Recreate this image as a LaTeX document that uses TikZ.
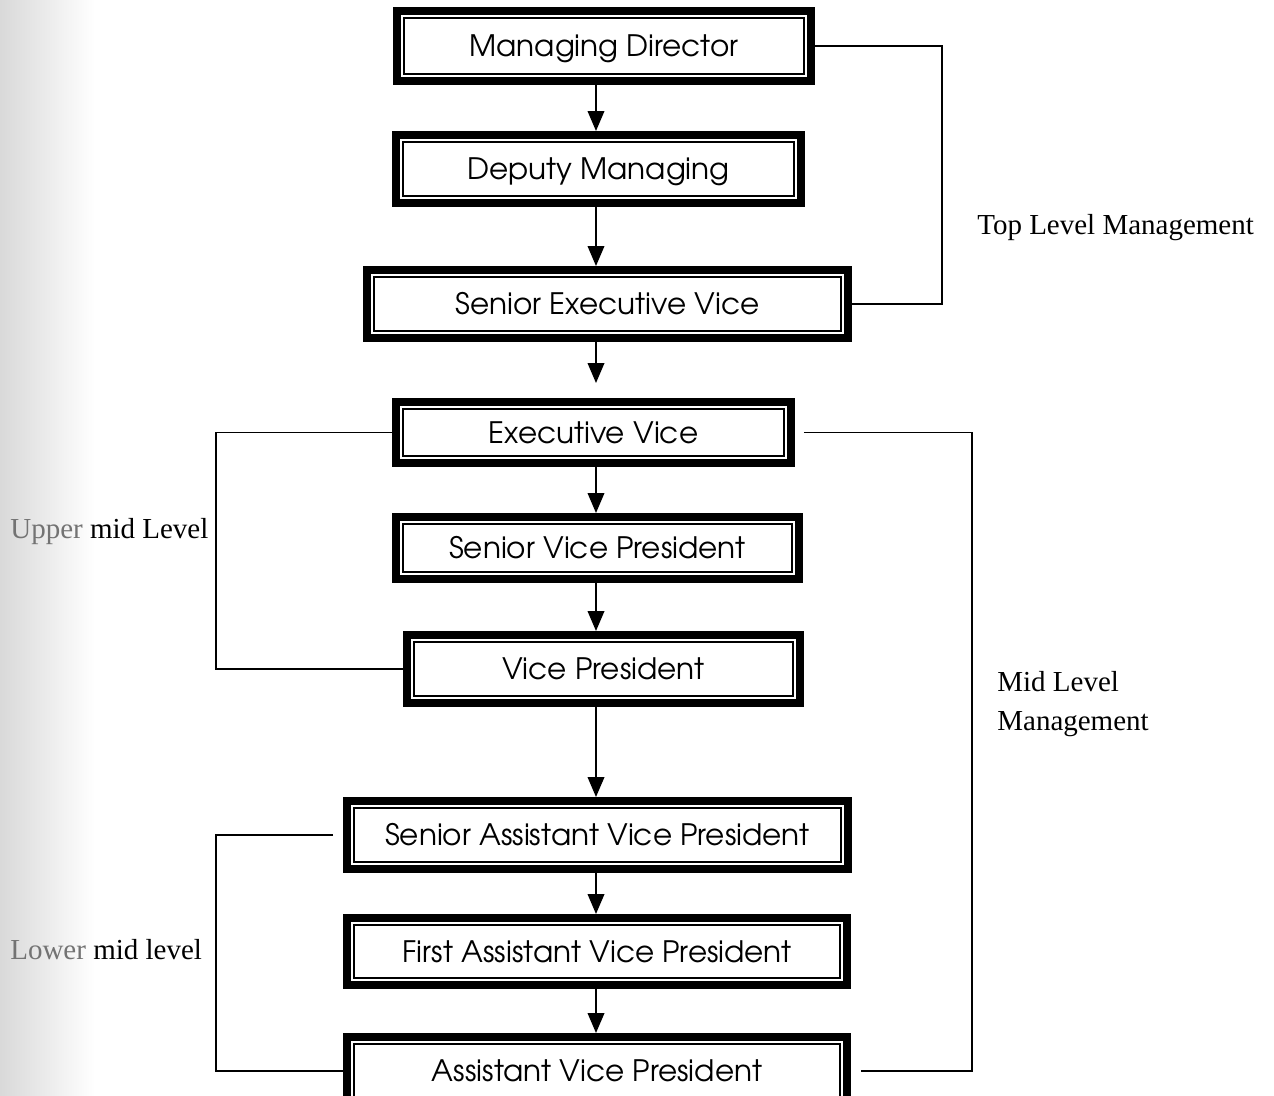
\documentclass[tikz,border=0pt]{standalone}
\usepackage{fontspec}
\setmainfont{Liberation Serif}
\newfontfamily\boxfont{TeX Gyre Adventor}
\usetikzlibrary{arrows.meta}
\tikzset{
  orgbox/.style args={#1/#2}{draw, line width=4.5pt, inner sep=0pt,
    minimum width={#1*0.02cm}, minimum height={#2*0.02cm},
    font=\boxfont\fontsize{16.8}{19}\selectfont,
    text height=12.5pt, text depth=0pt,
    path picture={\draw[line width=1.1pt]
      ([shift={(0.145cm,-0.145cm)}]path picture bounding box.north west) rectangle
      ([shift={(-0.145cm,0.145cm)}]path picture bounding box.south east);}},
  arr/.style={-{Triangle[width=0.33cm,length=0.4cm]}, line width=1.2pt},
  conn/.style={line width=0.85pt},
  lab/.style={font=\fontsize{16.5}{22}\selectfont, inner sep=0pt, anchor=west}
}
\begin{document}
\begin{tikzpicture}[x=0.02cm,y=-0.02cm]
\useasboundingbox (0,0) rectangle (1274,1095);
\fill[left color=black!15, right color=white] (0,0) rectangle (95,1095);
% boxes
\node[orgbox=414/70] (md) at (604,46) {Managing Director};
\node[orgbox=405/68] (dm) at (598.5,169) {Deputy Managing};
\node[orgbox=481/68] (sev) at (607.5,304) {Senior Executive Vice};
\node[orgbox=395/61] (ev) at (593.5,432.5) {Executive Vice};
\node[orgbox=403/62] (svp) at (597.5,548) {Senior Vice President};
\node[orgbox=393/68] (vp) at (603.5,669) {Vice President};
\node[orgbox=501/68] (savp) at (597.5,835) {Senior Assistant Vice President};
\node[orgbox=500/67] (favp) at (597,951.5) {First Assistant Vice President};
\node[orgbox=500/68] (avp) at (597,1071) {Assistant Vice President};
% arrow axis
\coordinate (ax) at (596,0);
\draw[arr] (md.south -| ax) -- (dm.north -| ax);
\draw[arr] (dm.south -| ax) -- (sev.north -| ax);
\draw[arr, shorten >=0.3cm] (sev.south -| ax) -- (ev.north -| ax);
\draw[arr] (ev.south -| ax) -- (svp.north -| ax);
\draw[arr] (svp.south -| ax) -- (vp.north -| ax);
\draw[arr] (vp.south -| ax) -- (savp.north -| ax);
\draw[arr] (savp.south -| ax) -- (favp.north -| ax);
\draw[arr] (favp.south -| ax) -- (avp.north -| ax);
% brackets
\coordinate (topr) at (942,170);
\coordinate (lu) at (216,550);
\coordinate (rm) at (972,700);
\coordinate (ll) at (216,950);
\draw[conn] (md.east) -| (topr) |- (sev.east);
\draw[conn] (ev.west) -| (lu) |- (vp.west);
\draw[conn, shorten <=0.18cm, shorten >=0.2cm] (ev.east) -| (rm) |- (avp.east);
\draw[conn, shorten <=0.2cm] (savp.west) -| (ll) |- (avp.west);
% labels
\node[lab] (ltop) at (977,228) {Top Level Management};
\node[lab, align=left] (lmid) at (997,704) {Mid Level\\Management};
\node[lab] (lup) at (10,532) {\textcolor{black!55}{Upper} mid Level};
\node[lab] (llow) at (10,950) {\textcolor{black!55}{Lower} mid level};
\end{tikzpicture}
\end{document}
